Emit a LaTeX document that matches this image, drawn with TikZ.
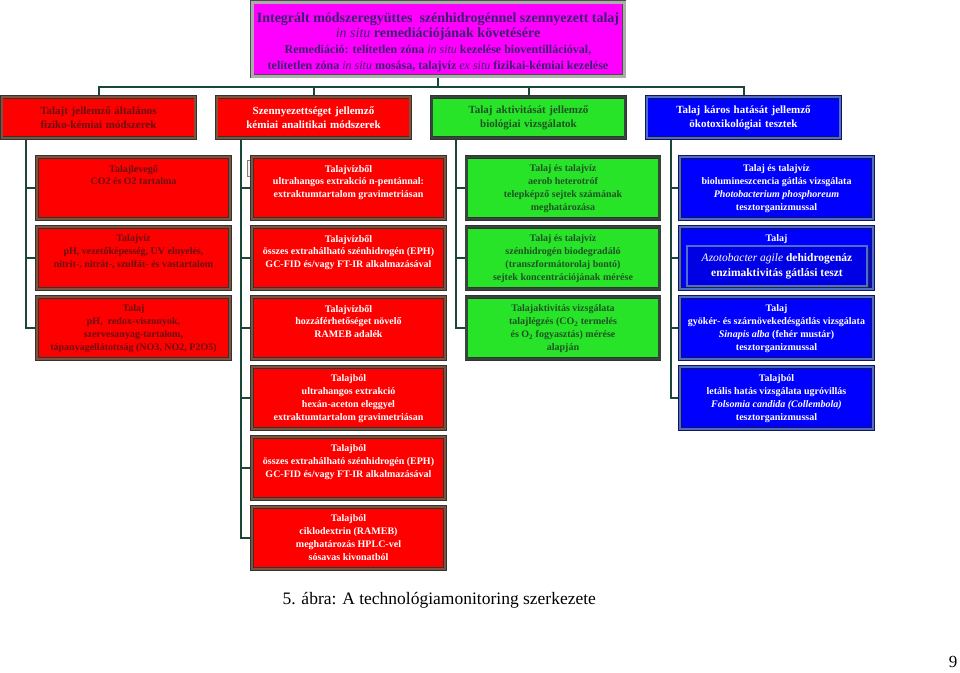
\documentclass[tikz,border=0pt]{standalone}
\usepackage{fontspec}
\setmainfont{Liberation Serif}
\usetikzlibrary{shadows,backgrounds}

\definecolor{redfill}{RGB}{255,0,0}
\definecolor{redline}{RGB}{128,84,58}
\definecolor{greenfill}{RGB}{40,228,40}
\definecolor{greenline}{RGB}{52,72,58}
\definecolor{bluefill}{RGB}{0,0,255}
\definecolor{blueline}{RGB}{80,110,200}
\definecolor{navyline}{RGB}{20,20,90}
\definecolor{topfill}{RGB}{255,0,255}
\definecolor{maroontxt}{RGB}{105,16,16}
\definecolor{greentxt}{RGB}{30,82,36}
\definecolor{toptxt}{RGB}{60,30,110}
\definecolor{linkcol}{RGB}{26,72,56}

\newcommand{\cell}[1]{\parbox[t][46pt][t]{187pt}{\centering #1}}

\begin{document}
\begin{tikzpicture}[x=1pt, y=-1pt,
  box/.style={rectangle, line width=0.7pt, double distance=2.2pt,
              drop shadow={shadow xshift=1.6pt, shadow yshift=-1.6pt, opacity=1, fill=black!85}},
  redbox/.style={box, fill=redfill, draw=black!80, double=redline},
  greenbox/.style={box, fill=greenfill, draw=black!80, double=greenline},
  bluebox/.style={box, fill=bluefill, draw=navyline, double=blueline},
  catbox/.style={minimum width=193pt, minimum height=41pt, text width=187pt, align=center,
                 font=\fontsize{11}{14}\selectfont\bfseries},
  cellbox/.style={inner xsep=3pt, inner ysep=8pt, font=\fontsize{10}{12.9}\selectfont\bfseries},
  link/.style={draw=linkcol, line width=2pt}]
  \useasboundingbox (0,0) rectangle (960,672);

  \node (top) [box, fill=topfill, draw=black!70, double=gray!65, double distance=3pt,
               minimum width=372pt, minimum height=74pt, align=center, text=toptxt,
               font=\fontsize{14}{15.8}\selectfont\bfseries]
              at (438,39)
              {\rule{0pt}{16pt}Integrált módszeregyüttes\ \ szénhidrogénnel szennyezett talaj\\
               \textmd{\textit{in situ}} remediációjának követésére\\
               \fontsize{12}{15.8}\selectfont Remediáció: telítetlen zóna \textmd{\textit{in situ}} kezelése bioventillációval,\\
               \fontsize{12}{15.8}\selectfont telítetlen zóna \textmd{\textit{in situ}} mosása, talajvíz \textmd{\textit{ex situ}} fizikai-kémiai kezelése};

  \node (c1) [redbox, catbox, text=maroontxt] at (98.5,117.5)
             {Talajt jellemző általános\\fiziko-kémiai módszerek};
  \node (c2) [redbox, catbox, text=white] at (313.5,117.5)
             {Szennyezettséget jellemző\\kémiai analitikai módszerek};
  \node (c3) [greenbox, catbox, text=greentxt] at (528.5,117.5)
             {Talaj aktivitását jellemző\\biológiai vizsgálatok};
  \node (c4) [bluebox, catbox, text=white] at (743.5,117.5)
             {Talaj káros hatását jellemző\\ökotoxikológiai tesztek};

  \node (s11) [redbox, cellbox, text=maroontxt] at (133.5,188)
              {\cell{Talajlevegő\\CO2 és O2 tartalma}};
  \node (s12) [redbox, cellbox, text=maroontxt] at (133.5,258)
              {\cell{Talajvíz\\pH, vezetőképesség, UV elnyelés,\\nitrit-, nitrát-, szulfát- és vastartalom}};
  \node (s13) [redbox, cellbox, text=maroontxt] at (133.5,328)
              {\cell{Talaj\\pH,\ \ redox-viszonyok,\\szervesanyag-tartalom,\\tápanyagellátottság (NO3, NO2, P2O5)}};

  \node (stub) [draw=gray, fill=gray!10, minimum width=12pt, minimum height=16pt] at (253,168) {};
  \node (s21) [redbox, cellbox, text=white] at (348.5,188)
              {\cell{Talajvízből\\ultrahangos extrakció n-pentánnal:\\extraktumtartalom gravimetriásan}};
  \node (s22) [redbox, cellbox, text=white] at (348.5,258)
              {\cell{Talajvízből\\összes extrahálható szénhidrogén (EPH)\\GC-FID és/vagy FT-IR alkalmazásával}};
  \node (s23) [redbox, cellbox, text=white] at (348.5,328)
              {\cell{Talajvízből\\hozzáférhetőséget növelő\\RAMEB adalék}};
  \node (s24) [redbox, cellbox, text=white] at (348.5,398)
              {\cell{Talajból\\ultrahangos extrakció\\hexán-aceton eleggyel\\extraktumtartalom gravimetriásan}};
  \node (s25) [redbox, cellbox, text=white] at (348.5,468)
              {\cell{Talajból\\összes extrahálható szénhidrogén (EPH)\\GC-FID és/vagy FT-IR alkalmazásával}};
  \node (s26) [redbox, cellbox, text=white] at (348.5,538)
              {\cell{Talajból\\ciklodextrin (RAMEB)\\meghatározás HPLC-vel\\sósavas kivonatból}};

  \node (s31) [greenbox, cellbox, text=greentxt] at (563,188)
              {\cell{Talaj és talajvíz\\aerob heterotróf\\telepképző sejtek számának\\meghatározása}};
  \node (s32) [greenbox, cellbox, text=greentxt] at (563,258)
              {\cell{Talaj és talajvíz\\szénhidrogén biodegradáló\\(transzformátorolaj bontó)\\sejtek koncentrációjának mérése}};
  \node (s33) [greenbox, cellbox, text=greentxt] at (563,328)
              {\cell{Talajaktivitás vizsgálata\\talajlégzés (CO\textsubscript{2} termelés\\és O\textsubscript{2} fogyasztás) mérése\\alapján}};

  \node (s41) [bluebox, cellbox, text=white] at (776.5,188)
              {\cell{Talaj és talajvíz\\biolumineszcencia gátlás vizsgálata\\\textit{Photobacterium phosphoreum}\\tesztorganizmussal}};
  \node (s42) [bluebox, cellbox, text=white] at (776.5,258)
              {\cell{Talaj}};
  \node (s42in) [box, fill=bluefill!90!black, draw=navyline, double=blueline, double distance=1.2pt,
                 drop shadow={opacity=0}, minimum width=180pt, minimum height=40pt, align=center,
                 text=white, font=\fontsize{11.5}{15}\selectfont\bfseries] at (777,266)
              {\textmd{\textit{Azotobacter agile}} dehidrogenáz\\enzimaktivitás gátlási teszt};
  \node (s43) [bluebox, cellbox, text=white] at (776.5,328)
              {\cell{Talaj\\gyökér- és szárnövekedésgátlás vizsgálata\\\textit{Sinapis alba} (fehér mustár)\\tesztorganizmussal}};
  \node (s44) [bluebox, cellbox, text=white] at (776.5,398)
              {\cell{Talajból\\letális hatás vizsgálata ugróvillás\\\textit{Folsomia candida (Collembola)}\\tesztorganizmussal}};

  \node (caption) [anchor=west, font=\fontsize{17.5}{20}\selectfont] at (279,600)
                  {5. ábra: A technológiamonitoring szerkezete};
  \node (page) [font=\fontsize{17}{20}\selectfont] at (953,662) {9};

  \begin{scope}[on background layer]
    \coordinate (hub) at (438,87);
    \draw[link] (top) -- (hub);
    \foreach \i in {1,...,4} {
      \draw[link] (hub) -| (c\i.north);
      \coordinate (t\i) at ([xshift=-73pt]c\i.south);
    }
    \foreach \c/\n in {1/3, 2/6, 3/3, 4/4}
      \foreach \r in {1,...,\n}
        \draw[link] (t\c) |- (s\c\r.west);
  \end{scope}
\end{tikzpicture}
\end{document}
